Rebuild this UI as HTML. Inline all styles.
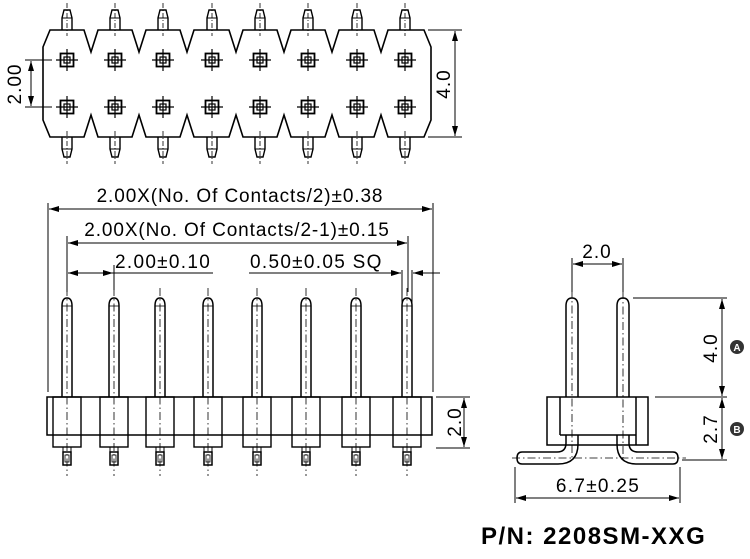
<!DOCTYPE html>
<html><head><meta charset="utf-8"><style>
html,body{margin:0;padding:0;background:#fff;}
svg{display:block;}
text{font-family:"Liberation Sans",Arial,sans-serif;fill:#000;}
</style></head><body>
<svg width="750" height="559" viewBox="0 0 750 559" xmlns="http://www.w3.org/2000/svg">
<defs>
<marker id="ar" viewBox="0 0 10 6" refX="10" refY="3" markerWidth="11" markerHeight="6" orient="auto-start-reverse" markerUnits="userSpaceOnUse"><path d="M0,0 L10,3 L0,6 Z" fill="#000"/></marker>
<g id="pad"><rect x="-6.5" y="-6.5" width="13" height="13" fill="none" stroke="#000" stroke-width="1.8"/><rect x="-3" y="-3" width="6" height="6" fill="none" stroke="#000" stroke-width="1.2"/><line x1="-11" y1="0" x2="11" y2="0" stroke="#000" stroke-width="1.2"/><line x1="0" y1="-11" x2="0" y2="11" stroke="#000" stroke-width="1.2"/></g>
<g id="tstub"><path d="M-5,30 L-5,18 L-3,10 L3,10 L5,18 L5,30" fill="none" stroke="#000" stroke-width="1.4"/><line x1="-5" y1="18" x2="5" y2="18" stroke="#000" stroke-width="1"/><line x1="0" y1="3" x2="0" y2="36" stroke="#000" stroke-width="0.8" stroke-dasharray="5,2,1,2"/></g>
<g id="bstub"><path d="M-5,137 L-5,149 L-3,157 L3,157 L5,149 L5,137" fill="none" stroke="#000" stroke-width="1.4"/><line x1="-5" y1="149" x2="5" y2="149" stroke="#000" stroke-width="1"/><line x1="0" y1="131" x2="0" y2="164" stroke="#000" stroke-width="0.8" stroke-dasharray="5,2,1,2"/></g>
<g id="fpin"><path d="M-5,397 L-5,306 Q-5,298 0,298 Q5,298 5,306 L5,397" fill="none" stroke="#000" stroke-width="1.5"/><line x1="-5" y1="306" x2="5" y2="306" stroke="#000" stroke-width="0.8"/>
<rect x="-14" y="397" width="28" height="50" fill="none" stroke="#000" stroke-width="1.4"/>
<rect x="-4" y="452" width="8" height="13" fill="none" stroke="#000" stroke-width="1.5"/><rect x="-2" y="455" width="4" height="7" fill="none" stroke="#000" stroke-width="0.8"/>
<line x1="-4" y1="447" x2="-4" y2="452" stroke="#000"/><line x1="4" y1="447" x2="4" y2="452" stroke="#000"/>
<line x1="0" y1="288" x2="0" y2="476" stroke="#000" stroke-width="0.8" stroke-dasharray="8,3,1.5,3"/></g>
</defs>
<g fill="none" stroke="#000" stroke-width="1.6">
<path d="M43,47 L50,30 L84,30 L91,52 L98,30 L132,30 L139,52 L146,30 L180,30 L187,52 L194,30 L229,30 L236,52 L243,30 L277,30 L284,52 L291,30 L325,30 L332,52 L339,30 L374,30 L381,52 L388,30 L424,30 L431,47 L431,120 L424,137 L388,137 L381,115 L374,137 L339,137 L332,115 L325,137 L291,137 L284,115 L277,137 L243,137 L236,115 L229,137 L194,137 L187,115 L180,137 L146,137 L139,115 L132,137 L98,137 L91,115 L84,137 L50,137 L43,120 Z"/>
</g>
<g>
<use href="#tstub" x="67"/><use href="#tstub" x="115"/><use href="#tstub" x="163"/><use href="#tstub" x="212"/><use href="#tstub" x="260"/><use href="#tstub" x="308"/><use href="#tstub" x="357"/><use href="#tstub" x="405"/>
<use href="#bstub" x="67"/><use href="#bstub" x="115"/><use href="#bstub" x="163"/><use href="#bstub" x="212"/><use href="#bstub" x="260"/><use href="#bstub" x="308"/><use href="#bstub" x="357"/><use href="#bstub" x="405"/>
<use href="#pad" x="67" y="60"/><use href="#pad" x="115" y="60"/><use href="#pad" x="163" y="60"/><use href="#pad" x="212" y="60"/><use href="#pad" x="260" y="60"/><use href="#pad" x="308" y="60"/><use href="#pad" x="357" y="60"/><use href="#pad" x="405" y="60"/>
<use href="#pad" x="67" y="107"/><use href="#pad" x="115" y="107"/><use href="#pad" x="163" y="107"/><use href="#pad" x="212" y="107"/><use href="#pad" x="260" y="107"/><use href="#pad" x="308" y="107"/><use href="#pad" x="357" y="107"/><use href="#pad" x="405" y="107"/>
</g>
<g stroke="#000" stroke-width="1" fill="none">
<line x1="25" y1="60" x2="52" y2="60"/><line x1="25" y1="107" x2="52" y2="107"/>
<line x1="31" y1="61" x2="31" y2="106" marker-start="url(#ar)" marker-end="url(#ar)"/>
<line x1="428" y1="30" x2="462" y2="30"/><line x1="428" y1="137" x2="462" y2="137"/>
<line x1="455" y1="31" x2="455" y2="136" marker-start="url(#ar)" marker-end="url(#ar)"/>
</g>
<text transform="translate(21,84) rotate(-90)" font-size="19" letter-spacing="1" text-anchor="middle">2.00</text>
<text transform="translate(450,84) rotate(-90)" font-size="19" letter-spacing="1" text-anchor="middle">4.0</text>

<rect x="47" y="397" width="385" height="38" fill="none" stroke="#000" stroke-width="1.5"/>
<g>
<use href="#fpin" x="67"/><use href="#fpin" x="114"/><use href="#fpin" x="160"/><use href="#fpin" x="208"/><use href="#fpin" x="257"/><use href="#fpin" x="306"/><use href="#fpin" x="356"/><use href="#fpin" x="407"/>
</g>
<g stroke="#000" stroke-width="1" fill="none">
<line x1="48" y1="203" x2="48" y2="392"/><line x1="433" y1="203" x2="433" y2="392"/>
<line x1="49" y1="209" x2="432" y2="209" marker-start="url(#ar)" marker-end="url(#ar)"/>
<line x1="67" y1="236" x2="67" y2="292"/><line x1="408" y1="236" x2="408" y2="292"/>
<line x1="68" y1="243" x2="407" y2="243" marker-start="url(#ar)" marker-end="url(#ar)"/>
<line x1="114" y1="265" x2="114" y2="290"/>
<line x1="68" y1="273" x2="113" y2="273" marker-start="url(#ar)" marker-end="url(#ar)"/>
<line x1="113" y1="273" x2="213" y2="273"/>
<line x1="249" y1="273" x2="400" y2="273"/>
<line x1="402" y1="270" x2="402" y2="324"/><line x1="412" y1="270" x2="412" y2="324"/>
<line x1="385" y1="273" x2="401" y2="273" marker-end="url(#ar)"/>
<line x1="430" y1="273" x2="413" y2="273" marker-end="url(#ar)"/>
<line x1="413" y1="273" x2="440" y2="273"/>
<line x1="436" y1="397" x2="470" y2="397"/><line x1="436" y1="448" x2="470" y2="448"/>
<line x1="464" y1="398" x2="464" y2="447" marker-start="url(#ar)" marker-end="url(#ar)"/>
</g>
<text x="240" y="202" font-size="19" letter-spacing="0.9" text-anchor="middle">2.00X(No. Of Contacts/2)±0.38</text>
<text x="237" y="236" font-size="19" letter-spacing="0.9" text-anchor="middle">2.00X(No. Of Contacts/2-1)±0.15</text>
<text x="115" y="268" font-size="19" letter-spacing="1.3">2.00±0.10</text>
<text x="250" y="268" font-size="19" letter-spacing="1.3">0.50±0.05 SQ</text>
<text transform="translate(461,422) rotate(-90)" font-size="19" letter-spacing="1" text-anchor="middle">2.0</text>

<g fill="none" stroke="#000" stroke-width="1.5">
<rect x="547" y="397" width="101" height="48"/>
<line x1="560" y1="397" x2="560" y2="435"/><line x1="636" y1="397" x2="636" y2="445"/>
<line x1="560" y1="435" x2="636" y2="435"/>
<path d="M566,397 L566,306 Q566,298 572,298 Q578,298 578,306 L578,397"/>
<path d="M617,397 L617,306 Q617,298 623,298 Q629,298 629,306 L629,397"/>
<path d="M566,435 L566,443 Q566,452 557,452 L522,452 Q517,452 517,458 Q517,464 522,464 L558,464 Q578,464 578,444 L578,435"/>
<path d="M629,435 L629,443 Q629,452 638,452 L673,452 Q678,452 678,458 Q678,464 673,464 L637,464 Q617,464 617,444 L617,435"/>
</g>
<g stroke="#000" stroke-width="0.8" fill="none" stroke-dasharray="8,3,1.5,3">
<line x1="572" y1="290" x2="572" y2="460"/><line x1="623" y1="260" x2="623" y2="460"/>
<line x1="512" y1="458" x2="686" y2="458"/>
</g>
<g stroke="#000" stroke-width="1" fill="none">
<line x1="572" y1="258" x2="572" y2="292"/><line x1="623" y1="258" x2="623" y2="292"/>
<line x1="573" y1="264" x2="622" y2="264" marker-start="url(#ar)" marker-end="url(#ar)"/>
<line x1="633" y1="298" x2="727" y2="298"/><line x1="655" y1="397" x2="727" y2="397"/><line x1="682" y1="460" x2="727" y2="460"/>
<line x1="722" y1="299" x2="722" y2="396" marker-start="url(#ar)" marker-end="url(#ar)"/>
<line x1="722" y1="398" x2="722" y2="459" marker-start="url(#ar)" marker-end="url(#ar)"/>
<line x1="515" y1="467" x2="515" y2="503"/><line x1="680" y1="467" x2="680" y2="503"/>
<line x1="516" y1="498" x2="679" y2="498" marker-start="url(#ar)" marker-end="url(#ar)"/>
</g>
<text x="597" y="258" font-size="19" letter-spacing="1" text-anchor="middle">2.0</text>
<text transform="translate(717,348) rotate(-90)" font-size="19" letter-spacing="1" text-anchor="middle">4.0</text>
<text transform="translate(717,429) rotate(-90)" font-size="19" letter-spacing="1" text-anchor="middle">2.7</text>
<circle cx="737" cy="347" r="7" fill="#333"/><text x="737" y="351" font-size="10" font-weight="bold" text-anchor="middle" style="fill:#fff">A</text>
<circle cx="737" cy="429" r="7" fill="#333"/><text x="737" y="433" font-size="10" font-weight="bold" text-anchor="middle" style="fill:#fff">B</text>
<text x="598" y="492" font-size="19" letter-spacing="1.3" text-anchor="middle">6.7±0.25</text>
<text x="481" y="544" font-size="24" font-weight="bold" letter-spacing="1.5">P/N: 2208SM-XXG</text>
</svg>
</body></html>
